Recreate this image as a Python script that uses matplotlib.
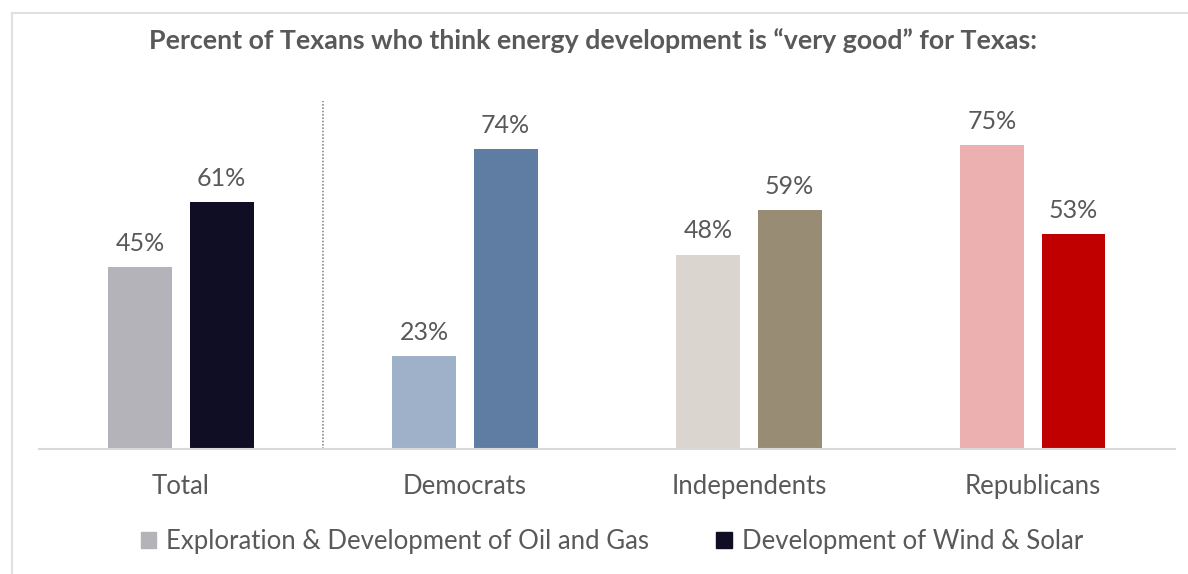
import matplotlib.pyplot as plt
import numpy as np
from matplotlib.patches import Patch

# survey results, percent saying "very good"
groups = ['Total', 'Democrats', 'Independents', 'Republicans']
oil_gas = [45, 23, 48, 75]
wind_solar = [61, 74, 59, 53]

# each group has its own pair of shades
oil_colors = ['#B4B3BA', '#9FB1C9', '#DAD6CF', '#EBB0AF']
wind_colors = ['#100E24', '#5F7DA2', '#988C74', '#C00000']

plt.rcParams['font.family'] = ['Lato', 'DejaVu Sans']
text_color = '#595959'

fig = plt.figure(figsize=(11.88, 5.74), dpi=100)
ax = fig.add_axes([0.0328, 0.2178, 0.9562, 0.6063])

x = np.arange(len(groups))
w = 0.225
off = 0.143
b1 = ax.bar(x - off, oil_gas, w, color=oil_colors)
b2 = ax.bar(x + off, wind_solar, w, color=wind_colors)

for bars, vals in [(b1, oil_gas), (b2, wind_solar)]:
    for bar, v in zip(bars, vals):
        ax.text(bar.get_x() + bar.get_width() / 2, v + 3.0, f'{v}%',
                ha='center', va='bottom', fontsize=18, color=text_color)

# separator between total and party breakdown
ax.axvline(0.5, color='#8C8C8C', linestyle=(0, (1, 1)), linewidth=1.2)

ax.set_xlim(-0.5, 3.5)
ax.set_ylim(0, 85.9)
ax.set_xticks(x)
ax.set_xticklabels(groups, fontsize=18.5, color=text_color)
ax.tick_params(axis='x', length=0, pad=18)
ax.set_yticks([])
for s in ['top', 'right', 'left']:
    ax.spines[s].set_visible(False)
ax.spines['bottom'].set_color('#D9D9D9')
ax.spines['bottom'].set_linewidth(1.5)

fig.text(0.499, 0.93, 'Percent of Texans who think energy development is \u201cvery good\u201d for Texas:',
         ha='center', va='center', fontsize=19.3, fontweight='bold', color=text_color)

handles = [Patch(color=oil_colors[0]), Patch(color=wind_colors[0])]
fig.legend(handles, ['Exploration & Development of Oil and Gas', 'Development of Wind & Solar'],
           loc='center', bbox_to_anchor=(0.515, 0.056), ncol=2, frameon=False,
           fontsize=18.5, handlelength=0.6, handleheight=0.6, handletextpad=0.4,
           columnspacing=2.6, labelcolor=text_color)

# thin frame along the top and left edges
fig.add_artist(plt.Line2D([0.0101, 1.0], [0.977, 0.977], color='#E0E0E0', lw=1.5))
fig.add_artist(plt.Line2D([0.0101, 0.0101], [0.0, 0.977], color='#E0E0E0', lw=1.5))

fig.savefig('out.png', dpi=100, facecolor='white')
